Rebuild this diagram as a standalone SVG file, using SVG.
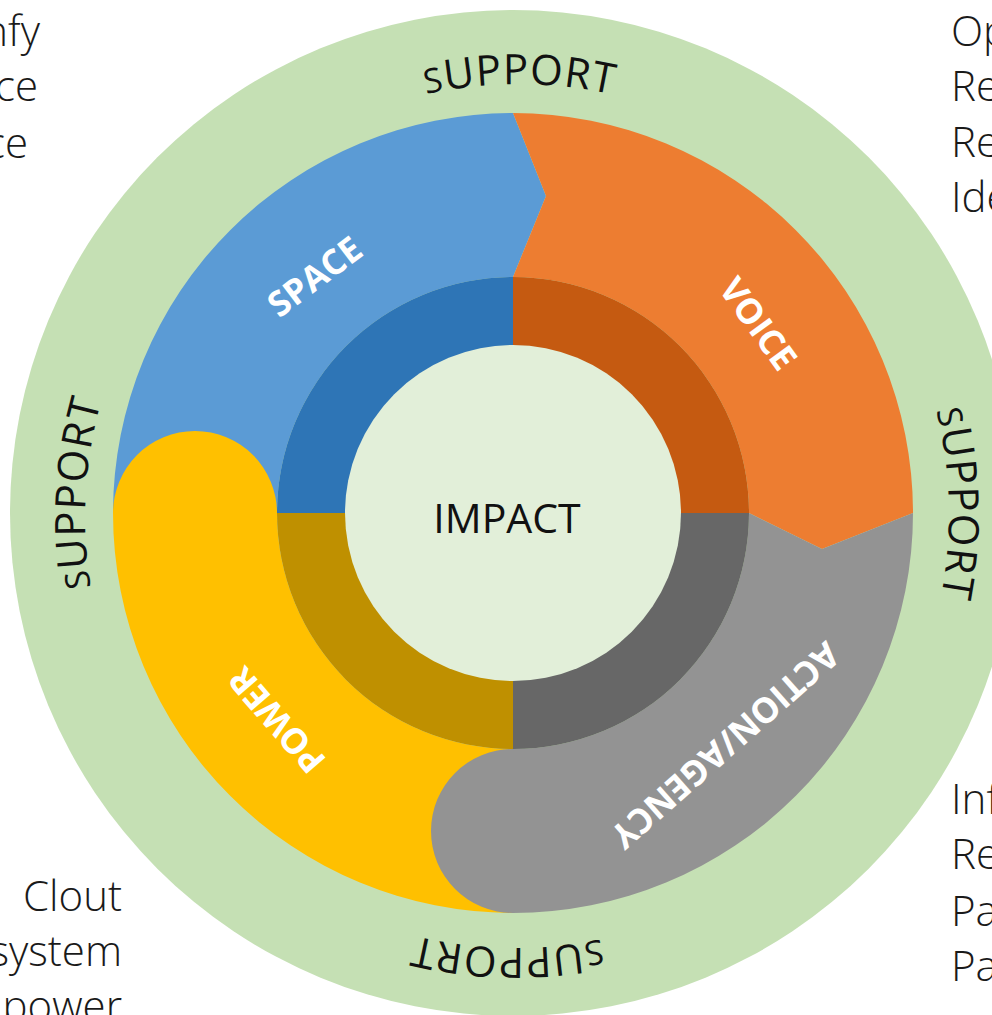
<svg xmlns="http://www.w3.org/2000/svg" width="992" height="1015" viewBox="0 0 992 1015">
<style>
.side{font-family:"Open Sans","Liberation Sans",sans-serif;font-weight:300;font-size:42px;fill:#1a1a1a}
.sup{font-family:"Open Sans","Liberation Sans",sans-serif;font-weight:400;font-size:42px;fill:#111;letter-spacing:1px}
.lbl{font-family:"Open Sans","Liberation Sans",sans-serif;font-weight:700;font-size:35px;fill:#fff;text-anchor:middle}
.imp{font-family:"Open Sans","Liberation Sans",sans-serif;font-weight:400;font-size:41px;fill:#111;text-anchor:middle}
</style>
<defs>
<path id="supPath" d="M 821.05 820.05 A 430 430 0 1 1 212.95 211.95 A 430 430 0 1 1 821.05 820.05"/>
</defs>
<rect width="992" height="1015" fill="#fff"/>
<g id="side-text" class="side">
<text x="40" y="46" text-anchor="end">nfy</text>
<text x="38" y="101" text-anchor="end">ce</text>
<text x="28" y="158" text-anchor="end">ce</text>
<text x="951" y="46">Op</text>
<text x="951" y="101">Re</text>
<text x="951" y="157">Re</text>
<text x="951" y="212">Ide</text>
<text x="951" y="814">Inf</text>
<text x="951" y="869">Re</text>
<text x="951" y="926">Pa</text>
<text x="951" y="981">Pa</text>
<text x="122" y="911" text-anchor="end">Clout</text>
<text x="122" y="966" text-anchor="end">system</text>
<text x="122" y="1021" text-anchor="end">power</text>
</g>
<g id="support-ring">
<circle cx="513" cy="513" r="503" fill="#C5E0B4"/>
<text class="sup" text-anchor="middle"><textPath href="#supPath" startOffset="1697"><tspan font-size="34">S</tspan>UPPORT</textPath></text>
<text class="sup" text-anchor="middle"><textPath href="#supPath" startOffset="2361"><tspan font-size="34">S</tspan>UPPORT</textPath></text>
<text class="sup" text-anchor="middle"><textPath href="#supPath" startOffset="348"><tspan font-size="34">S</tspan>UPPORT</textPath></text>
<text class="sup" text-anchor="middle"><textPath href="#supPath" startOffset="1040"><tspan font-size="34">S</tspan>UPPORT</textPath></text>
</g>
<g id="space">
<path d="M 113 513 A 400 400 0 0 1 513 113 L 546 196 L 513 277 A 236 236 0 0 0 277 513 Z" fill="#5B9BD5"/>
<text class="lbl" transform="translate(315,277) rotate(-37)" y="12">SPACE</text>
</g>
<g id="voice">
<path d="M 513 113 A 400 400 0 0 1 913 513 L 822 549 L 749 513 A 236 236 0 0 0 513 277 L 546 196 Z" fill="#ED7D31"/>
<text class="lbl" transform="translate(758,324) rotate(54)" y="12">VOICE</text>
</g>
<g id="power">
<path d="M 513 913 A 400 400 0 0 1 113 513 A 82 82 0 0 1 277 513 A 236 236 0 0 0 513 749 Z" fill="#FFC000"/>
<text class="lbl" transform="translate(277,720) rotate(229)" y="12">POWER</text>
</g>
<g id="action-agency">
<path d="M 913 513 A 400 400 0 0 1 513 913 A 82 82 0 0 1 513 749 A 236 236 0 0 0 749 513 L 822 549 Z" fill="#939393"/>
<text class="lbl" transform="translate(725,745) rotate(138.5)" y="12">ACTION/AGENCY</text>
</g>
<g id="inner-ring">
<path d="M 513 513 L 277 513 A 236 236 0 0 1 513 277 Z" fill="#2E75B6"/>
<path d="M 513 513 L 513 277 A 236 236 0 0 1 749 513 Z" fill="#C55A11"/>
<path d="M 513 513 L 749 513 A 236 236 0 0 1 513 749 Z" fill="#676767"/>
<path d="M 513 513 L 513 749 A 236 236 0 0 1 277 513 Z" fill="#BF9000"/>
</g>
<g id="impact">
<circle cx="513" cy="513" r="168" fill="#E2EFD9"/>
<text class="imp" x="507" y="533">IMPACT</text>
</g>
<g id="connectors"/>
</svg>
